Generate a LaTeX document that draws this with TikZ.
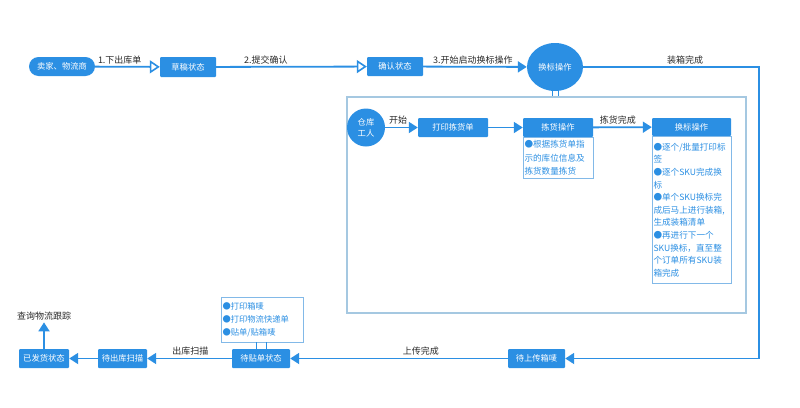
\documentclass[tikz,border=0pt]{standalone}
\usepackage{fontspec}
\setmainfont{Noto Sans CJK SC}
\usetikzlibrary{arrows.meta,shapes.geometric,positioning}
\definecolor{mblue}{RGB}{43,143,227}
\definecolor{lborder}{RGB}{165,200,225}
\definecolor{bborder}{RGB}{130,185,232}
\definecolor{lbl}{RGB}{40,40,40}
\tikzset{
  conn/.style={draw=mblue, line width=1.8pt},
  fa/.style={-{Triangle[length=9pt,width=11pt]}},
  oa/.style={-{Triangle[open,length=10pt,width=13pt,fill=white,line width=1.6pt]}},
  sbox/.style={fill=mblue, text=white, inner sep=0pt, font=\fontsize{8.3}{9}\selectfont, rounded corners=1pt},
  bodybox/.style={draw=bborder, line width=0.9pt, fill=white, text=mblue, inner sep=1.5pt, align=left, anchor=north, font=\fontsize{8.6}{12.6}\selectfont},
  elabel/.style={text=lbl, font=\fontsize{9}{10}\selectfont, inner sep=2pt},
  dl/.style={draw=mblue, line width=1pt}
}
\begin{document}
\begin{tikzpicture}[x=1pt,y=-1pt]
\useasboundingbox (0,0) rectangle (800,407);
% big frame
\node[draw=lborder, line width=1.2pt, minimum width=399pt, minimum height=216pt, inner sep=0pt] (big) at (546.5,205) {};
% top row
\node[sbox, rounded corners=9.5pt, minimum width=66pt, minimum height=19pt] (seller) at (62,66.5) {卖家、物流商};
\node[sbox, minimum width=56pt, minimum height=20pt] (draft) at (188,67) {草稿状态};
\node[sbox, minimum width=56pt, minimum height=19pt] (confirm) at (395,66.5) {确认状态};
\node[ellipse, fill=mblue, text=white, minimum width=56pt, minimum height=48pt, inner sep=0pt, font=\fontsize{8.3}{9}\selectfont] (hb) at (555,67) {换标操作};
% inner
\node[circle, fill=mblue, text=white, minimum size=38pt, inner sep=0pt, align=center, font=\fontsize{8.3}{11}\selectfont] (worker) at (366,127.5) {仓库\\工人};
\node[sbox, minimum width=70pt, minimum height=19pt] (print) at (453,127.5) {打印拣货单};
\node[sbox, minimum width=70pt, minimum height=19pt] (pick) at (558,127.5) {拣货操作};
\node[bodybox, text width=67pt, minimum width=70pt, minimum height=41pt, font=\fontsize{8.6}{13.5}\selectfont] (pickb) at (pick.south) {●根据拣货单指\\示的库位信息及\\拣货数量拣货};
\node[sbox, minimum width=79pt, minimum height=18pt] (label) at (691.5,127) {换标操作};
\node[bodybox, text width=76pt, minimum width=79pt, minimum height=147pt] (labelb) at (label.south) {●逐个/批量打印标\\签\\●逐个SKU完成换\\标\\●单个SKU换标完\\成后马上进行装箱,\\生成装箱清单\\●再进行下一个\\SKU换标，直至整\\个订单所有SKU装\\箱完成};
% bottom row
\node[sbox, minimum width=57pt, minimum height=19pt] (upload) at (536.5,358.5) {待上传箱唛};
\node[sbox, minimum width=58pt, minimum height=19pt] (paste) at (261,358.5) {待贴单状态};
\node[bodybox, anchor=center, text width=79pt, minimum width=82pt, minimum height=45pt, font=\fontsize{8.3}{13}\selectfont] (pasteb) at (262,319.5) {●打印箱唛\\●打印物流快递单\\●贴单/贴箱唛};
\node[sbox, minimum width=49pt, minimum height=19pt] (scan) at (122.5,358.5) {待出库扫描};
\node[sbox, minimum width=50pt, minimum height=19pt] (shipped) at (44,358.5) {已发货状态};
\node[elabel] (track) at (44,316) {查询物流跟踪};
\coordinate (corner) at (759,358.5);
% connectors
\draw[conn, oa] (seller) -- node[elabel, above, pos=0.38] {1.下出库单} (draft);
\draw[conn, oa] (draft) -- node[elabel, above, pos=0.33] {2.提交确认} (confirm);
\draw[conn, fa] (confirm) -- node[elabel, above, pos=0.48] {3.开始启动换标操作} (hb);
\draw[conn, fa] (hb.east) -| node[elabel, above, pos=0.29] {装箱完成} (corner) -- (upload.east);
\draw[dl] ([xshift=-3pt]hb.south) -- ([xshift=-3pt]hb.south |- big.north);
\draw[dl] ([xshift=3pt]hb.south) -- ([xshift=3pt]hb.south |- big.north);
\draw[conn, fa] (worker) -- node[elabel, above, pos=0.4] {开始} (print);
\draw[conn, fa] (print) -- (pick);
\draw[conn, fa] (pick) -- node[elabel, above, pos=0.42] {拣货完成} (label);
\draw[conn, fa] (upload) -- node[elabel, above, pos=0.40] {上传完成} (paste);
\draw[conn, fa] (paste) -- node[elabel, above, pos=0.49] {出库扫描} (scan);
\draw[conn, fa] (scan) -- (shipped);
\draw[conn, fa] (shipped.north) -- (track.south);
\draw[dl] ([xshift=-5pt]paste.north) -- ([xshift=-5pt]paste.north |- pasteb.south);
\draw[dl] ([xshift=5pt]paste.north) -- ([xshift=5pt]paste.north |- pasteb.south);
\end{tikzpicture}
\end{document}
